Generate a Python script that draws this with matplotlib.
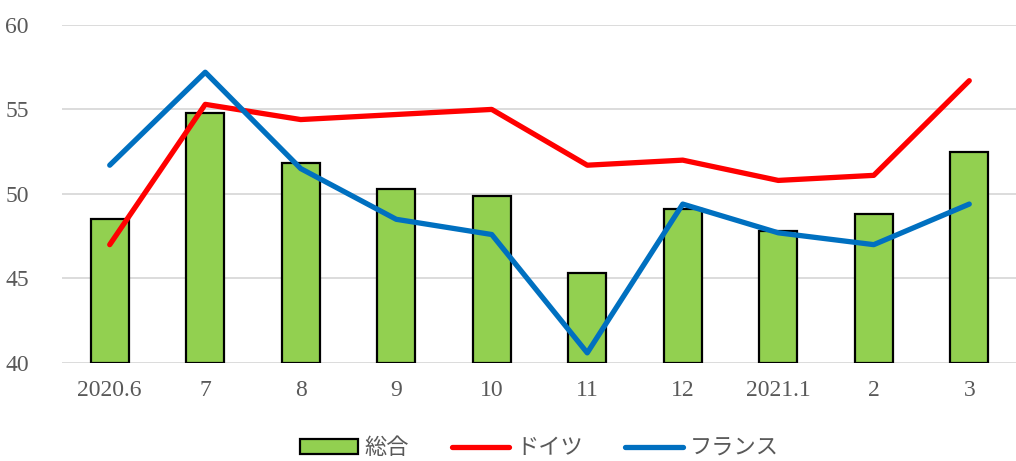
import matplotlib
matplotlib.use('Agg')
import matplotlib.pyplot as plt
import numpy as np

plt.rcParams['font.family'] = ['Liberation Serif', 'Noto Sans CJK JP', 'DejaVu Sans']

# data
months = ['2020.6', '7', '8', '9', '10', '11', '12', '2021.1', '2', '3']
total = [48.5, 54.8, 51.85, 50.3, 49.9, 45.3, 49.1, 47.8, 48.8, 52.5]
germany = [47.0, 55.3, 54.4, 54.7, 55.0, 51.7, 52.0, 50.8, 51.1, 56.7]
france = [51.7, 57.2, 51.5, 48.5, 47.6, 40.6, 49.4, 47.7, 47.0, 49.4]

fig = plt.figure(figsize=(10.16, 4.61), dpi=100)
ax = fig.add_axes([0.061, 0.2126, 0.94, 0.7334])

x = np.arange(len(months))
bars = ax.bar(x, np.array(total) - 40, bottom=40, width=0.4, color='#92D050',
              edgecolor='black', linewidth=1.6, label='総合', zorder=2)
l1, = ax.plot(x, germany, color='#FF0000', linewidth=3.8, solid_capstyle='round',
              label='ドイツ', zorder=3)
l2, = ax.plot(x, france, color='#0070C0', linewidth=3.8, solid_capstyle='round',
              label='フランス', zorder=4)

ax.set_ylim(40, 60)
ax.set_yticks([40, 45, 50, 55, 60])
ax.set_xlim(-0.5, len(months) - 0.5)
ax.set_xticks(x)
ax.set_xticklabels(months)
ax.yaxis.grid(True, color='#D9D9D9', linewidth=1.3, zorder=0)
ax.set_axisbelow(True)
for s in ['top', 'right', 'left', 'bottom']:
    ax.spines[s].set_visible(False)
ax.tick_params(axis='both', length=0, labelsize=17, labelcolor='#595959')
ax.tick_params(axis='x', pad=12)
ax.tick_params(axis='y', pad=24)

leg = ax.legend([bars, l1, l2], ['総合', 'ドイツ', 'フランス'],
                loc='upper center', bbox_to_anchor=(0.5, -0.165), ncol=3,
                frameon=False, fontsize=16, labelcolor='#595959',
                handlelength=2.6, columnspacing=1.9, handletextpad=0.3)

plt.savefig('out.png', dpi=100)
